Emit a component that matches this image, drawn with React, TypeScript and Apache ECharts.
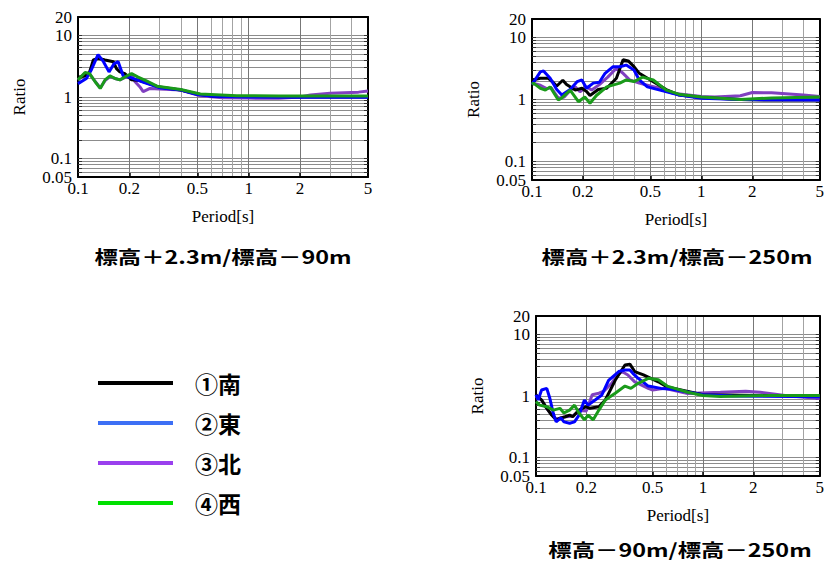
import React, { useEffect, useRef } from 'react';
import * as echarts from 'echarts';

// ---- labels / categories ----
const NAMES = ['①南', '②東', '③北', '④西'];
const LINE_COLORS = ['#000000', '#0000ff', '#8040c0', '#1a9a1a'];
const LEGEND_COLORS = ['#000000', '#3d6ff5', '#9a40ee', '#00e000'];
const TITLES = ['標高＋2.3m/標高－90m', '標高＋2.3m/標高－250m', '標高－90m/標高－250m'];
const X_LABELS = [0.1, 0.2, 0.5, 1, 2, 5];
const Y_LABELS = [0.05, 0.1, 1, 10, 20];
const X_GRID = [0.2, 0.3, 0.4, 0.5, 0.6, 0.7, 0.8, 0.9, 1, 2, 3, 4];
const X_GRID_COLORS = ['#777', '#a3a3a3', '#a3a3a3', '#777', '#a3a3a3', '#a3a3a3', '#a3a3a3', '#a3a3a3', '#777', '#777', '#a3a3a3', '#a3a3a3'];
const Y_GRID = [0.06, 0.07, 0.08, 0.09, 0.1, 0.2, 0.3, 0.4, 0.5, 0.6, 0.7, 0.8, 0.9, 1, 2, 3, 4, 5, 6, 7, 8, 9, 10];

// ---- panel 1 : 標高＋2.3m/標高－90m ----
const p1SouthT = [0.1, 0.11, 0.117, 0.123, 0.131, 0.144, 0.161, 0.168, 0.176, 0.188, 0.206, 0.23, 0.26, 0.3, 0.4, 0.5, 0.62, 0.8, 1, 2, 5];
const p1SouthR = [2.1, 2.2, 2.56, 4.0, 4.26, 4.0, 3.75, 2.9, 2.56, 2.4, 1.9, 1.85, 1.65, 1.45, 1.3, 1.12, 1.03, 1.02, 1.02, 1.0, 1.0];
const p1EastT = [0.1, 0.112, 0.12, 0.131, 0.141, 0.152, 0.163, 0.172, 0.184, 0.2, 0.24, 0.3, 0.4, 0.5, 0.62, 1, 2, 5];
const p1EastR = [1.65, 2.0, 2.8, 4.9, 3.75, 2.56, 3.5, 3.75, 2.2, 2.1, 1.75, 1.42, 1.3, 1.1, 1.03, 1.0, 0.99, 0.99];
const p1NorthT = [0.1, 0.11, 0.117, 0.126, 0.135, 0.144, 0.154, 0.165, 0.176, 0.193, 0.206, 0.216, 0.23, 0.241, 0.264, 0.3, 0.4, 0.52, 0.7, 1, 1.5, 2, 2.3, 3, 4.4, 5];
const p1NorthR = [1.9, 2.45, 2.35, 1.8, 1.4, 1.85, 2.15, 2.0, 1.9, 2.15, 2.3, 1.77, 1.47, 1.22, 1.38, 1.35, 1.3, 1.05, 0.97, 0.96, 0.95, 1.0, 1.08, 1.15, 1.2, 1.25];
const p1WestT = [0.1, 0.11, 0.117, 0.126, 0.135, 0.144, 0.154, 0.165, 0.176, 0.193, 0.206, 0.225, 0.25, 0.29, 0.4, 0.52, 0.85, 1.5, 3, 5];
const p1WestR = [1.9, 2.5, 2.4, 1.77, 1.38, 1.9, 2.2, 2.0, 1.9, 2.2, 2.4, 2.1, 1.85, 1.5, 1.32, 1.12, 1.05, 1.04, 1.04, 1.04];

// ---- panel 2 : 標高＋2.3m/標高－250m ----
const p2SouthT = [0.1, 0.112, 0.125, 0.133, 0.14, 0.152, 0.16, 0.18, 0.197, 0.21, 0.22, 0.246, 0.276, 0.315, 0.345, 0.37, 0.4, 0.43, 0.5, 0.62, 0.74, 1, 1.7, 2.6, 5];
const p2SouthR = [2.07, 2.2, 2.2, 1.9, 1.65, 2.05, 1.75, 1.42, 1.52, 1.35, 1.16, 1.45, 1.52, 2.2, 4.4, 4.2, 3.4, 2.65, 2.07, 1.45, 1.18, 1.08, 1.0, 0.98, 0.98];
const p2EastT = [0.1, 0.112, 0.117, 0.128, 0.14, 0.15, 0.168, 0.185, 0.197, 0.21, 0.23, 0.25, 0.27, 0.3, 0.33, 0.36, 0.4, 0.43, 0.48, 0.54, 0.74, 1, 1.7, 5];
const p2EastR = [1.75, 2.8, 2.9, 2.2, 1.45, 1.18, 1.45, 1.95, 2.07, 1.52, 1.84, 1.9, 2.65, 3.38, 3.38, 3.6, 3.0, 2.07, 1.6, 1.47, 1.18, 1.05, 1.0, 0.98];
const p2NorthT = [0.1, 0.112, 0.122, 0.13, 0.143, 0.155, 0.168, 0.18, 0.192, 0.21, 0.225, 0.25, 0.28, 0.315, 0.345, 0.378, 0.43, 0.5, 0.57, 0.68, 1, 1.2, 1.7, 2, 2.6, 4, 5];
const p2NorthR = [1.85, 1.7, 1.5, 1.55, 1.05, 1.1, 1.4, 1.6, 1.33, 1.6, 1.42, 1.74, 2.3, 3.2, 2.65, 2.07, 1.84, 1.65, 1.52, 1.26, 1.12, 1.1, 1.15, 1.3, 1.28, 1.18, 1.12];
const p2WestT = [0.1, 0.102, 0.112, 0.12, 0.128, 0.143, 0.15, 0.168, 0.188, 0.205, 0.22, 0.24, 0.276, 0.33, 0.36, 0.4, 0.45, 0.52, 0.62, 0.75, 1, 1.7, 2.6, 5];
const p2WestR = [1.75, 1.84, 1.52, 1.42, 1.6, 0.98, 1.06, 1.42, 0.92, 1.1, 0.87, 1.16, 1.6, 1.84, 2.07, 1.95, 2.3, 2.07, 1.42, 1.2, 1.1, 1.0, 1.06, 1.1];

// ---- panel 3 : 標高－90m/標高－250m ----
const p3SouthT = [0.1, 0.103, 0.108, 0.116, 0.124, 0.132, 0.141, 0.15, 0.159, 0.166, 0.181, 0.199, 0.21, 0.238, 0.26, 0.298, 0.341, 0.365, 0.39, 0.44, 0.54, 0.61, 1, 2.5, 5];
const p3SouthR = [1.05, 0.97, 0.86, 0.63, 0.49, 0.41, 0.44, 0.46, 0.49, 0.46, 0.59, 0.67, 0.63, 0.67, 0.86, 1.8, 3.2, 3.3, 2.5, 2.2, 1.7, 1.4, 1.05, 1.02, 1.0];
const p3EastT = [0.1, 0.103, 0.108, 0.116, 0.121, 0.127, 0.132, 0.141, 0.147, 0.159, 0.17, 0.181, 0.195, 0.205, 0.226, 0.248, 0.272, 0.313, 0.341, 0.365, 0.38, 0.409, 0.47, 0.56, 0.64, 1, 1.5, 5];
const p3EastR = [1.05, 0.86, 1.25, 1.33, 0.92, 0.52, 0.38, 0.44, 0.38, 0.36, 0.38, 0.49, 0.86, 0.71, 0.86, 1.04, 1.8, 2.5, 2.65, 2.65, 2.34, 1.94, 1.45, 1.33, 1.3, 1.05, 1.0, 0.97];
const p3NorthT = [0.1, 0.108, 0.116, 0.124, 0.132, 0.15, 0.166, 0.181, 0.2, 0.217, 0.238, 0.255, 0.284, 0.306, 0.327, 0.355, 0.39, 0.42, 0.47, 0.5, 0.587, 0.81, 1.27, 1.8, 2.2, 3.1, 5];
const p3NorthR = [1.0, 0.86, 0.63, 0.5, 0.42, 0.46, 0.47, 0.58, 0.57, 1.05, 1.11, 1.2, 1.61, 2.2, 2.5, 2.2, 1.7, 1.55, 1.33, 1.25, 1.33, 1.1, 1.15, 1.2, 1.15, 1.02, 0.91];
const p3WestT = [0.1, 0.105, 0.116, 0.127, 0.139, 0.147, 0.159, 0.17, 0.181, 0.195, 0.205, 0.22, 0.238, 0.26, 0.298, 0.341, 0.37, 0.409, 0.47, 0.54, 0.61, 0.81, 1, 1.27, 2.5, 5];
const p3WestR = [0.81, 0.71, 0.67, 0.59, 0.63, 0.53, 0.59, 0.71, 0.53, 0.41, 0.49, 0.41, 0.59, 0.86, 1.11, 1.45, 1.33, 1.61, 1.94, 1.84, 1.45, 1.15, 1.02, 0.98, 1.02, 1.02];

const PANELS = [
  [[p1SouthT, p1SouthR], [p1EastT, p1EastR], [p1NorthT, p1NorthR], [p1WestT, p1WestR]],
  [[p2SouthT, p2SouthR], [p2EastT, p2EastR], [p2NorthT, p2NorthR], [p2WestT, p2WestR]],
  [[p3SouthT, p3SouthR], [p3EastT, p3EastR], [p3NorthT, p3NorthR], [p3WestT, p3WestR]],
];

// ---- layout ----
const GRIDS = [
  { left: 78, top: 17, width: 290, height: 160 },
  { left: 532, top: 19, width: 289, height: 161 },
  { left: 536, top: 316, width: 289, height: 160 },
];
const TITLE_POS = [
  [223, 256],
  [677, 256],
  [680, 549],
];
const SERIF = '"Liberation Serif", "Times New Roman", serif';
const GOTHIC = '"Noto Sans CJK JP", sans-serif';
const DRAW_ORDER = [2, 0, 1, 3];

function zip(t: number[], r: number[]) {
  return t.map((v, i) => [v, r[i]]);
}

export default function App() {
  const ref = useRef<HTMLDivElement>(null);
  useEffect(() => {
    if (!ref.current) return;
    const chart = echarts.init(ref.current, null, { renderer: 'svg' });
    const xAxis: any[] = [];
    const yAxis: any[] = [];
    GRIDS.forEach((_, i) => {
      xAxis.push({
        type: 'log', logBase: 10, gridIndex: i, min: 0.1, max: 5, position: 'bottom',
        name: 'Period[s]', nameLocation: 'middle', nameGap: 31,
        nameTextStyle: { fontFamily: SERIF, fontSize: 17, color: '#000' },
        axisLine: { show: true, onZero: false, lineStyle: { color: '#000', width: 2 } },
        axisTick: { show: true, inside: true, length: 4, customValues: X_LABELS, lineStyle: { color: '#000', width: 1.5 } },
        axisLabel: { customValues: X_LABELS, margin: 3, fontFamily: SERIF, fontSize: 17, color: '#000', formatter: (v: number) => String(v) },
        splitLine: { show: false },
      });
    });
    GRIDS.forEach((_, i) => {
      xAxis.push({
        type: 'log', logBase: 10, gridIndex: i, min: 0.1, max: 5, position: 'top',
        axisLine: { show: true, onZero: false, lineStyle: { color: '#000', width: 2 } },
        axisTick: { show: false, customValues: X_GRID },
        axisLabel: { show: false },
        splitLine: { show: true, lineStyle: { color: X_GRID_COLORS, width: 1 } },
      });
    });
    GRIDS.forEach((_, i) => {
      yAxis.push({
        type: 'log', logBase: 10, gridIndex: i, min: 0.05, max: 20, position: 'left',
        name: 'Ratio', nameLocation: 'middle', nameGap: 50,
        nameTextStyle: { fontFamily: SERIF, fontSize: 17, color: '#000' },
        axisLine: { show: true, onZero: false, lineStyle: { color: '#000', width: 2 } },
        axisTick: { show: true, inside: true, length: 4, customValues: Y_GRID, lineStyle: { color: '#333', width: 1 } },
        axisLabel: { customValues: Y_LABELS, margin: 6, fontFamily: SERIF, fontSize: 17, color: '#000', formatter: (v: number) => String(v) },
        splitLine: { show: true, lineStyle: { color: '#8c8c8c', width: 1 } },
      });
    });
    GRIDS.forEach((_, i) => {
      yAxis.push({
        type: 'log', logBase: 10, gridIndex: i, min: 0.05, max: 20, position: 'right',
        axisLine: { show: true, onZero: false, lineStyle: { color: '#000', width: 2 } },
        axisTick: { show: true, inside: true, length: 4, customValues: Y_GRID, lineStyle: { color: '#333', width: 1 } },
        axisLabel: { show: false },
        splitLine: { show: false },
      });
    });
    const series: any[] = [];
    PANELS.forEach((panel, i) => {
      DRAW_ORDER.forEach((k) => {
        series.push({
          type: 'line', name: NAMES[k], xAxisIndex: i, yAxisIndex: i,
          data: zip(panel[k][0], panel[k][1]),
          showSymbol: false, symbol: 'none', clip: true,
          lineStyle: { color: LINE_COLORS[k], width: 3 },
          itemStyle: { color: LINE_COLORS[k] },
          emphasis: { disabled: true },
        });
      });
    });
    chart.setOption({
      animation: false,
      backgroundColor: '#ffffff',
      grid: GRIDS.map((g) => ({ ...g, containLabel: false })),
      xAxis,
      yAxis,
      series,
      legend: {
        orient: 'vertical', left: 93, top: 366, itemWidth: 75, itemHeight: 4, itemGap: 16,
        icon: 'rect', selectedMode: false,
        textStyle: { fontFamily: GOTHIC, fontSize: 23, fontWeight: 'bold', color: '#000', lineHeight: 24, padding: [0, 0, 0, 17] },
        data: NAMES.map((n, i) => ({ name: n, itemStyle: { color: LEGEND_COLORS[i], borderColor: LEGEND_COLORS[i], borderWidth: 0 } })),
      },
      graphic: TITLES.map((t, i) => ({
        type: 'text', x: TITLE_POS[i][0], y: TITLE_POS[i][1], scaleX: 1.3,
        style: {
          text: t, fontFamily: GOTHIC, fontSize: 18, fontWeight: 'bold', fill: '#000',
          textAlign: 'center', textVerticalAlign: 'middle', align: 'center', verticalAlign: 'middle',
        },
      })),
    });
    return () => chart.dispose();
  }, []);
  return <div ref={ref} style={{ position: 'fixed', left: 0, top: 0, width: 827, height: 564, background: '#fff' }} />;
}
